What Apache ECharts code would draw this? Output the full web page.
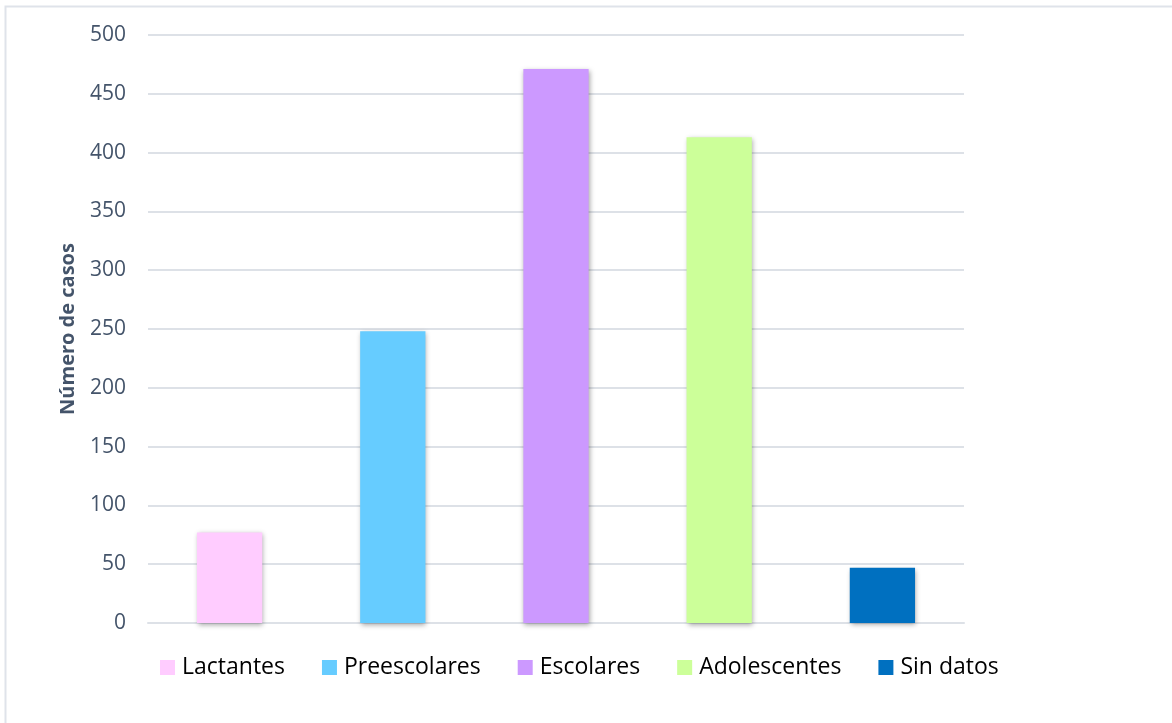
<!DOCTYPE html>
<html>
<head>
<meta charset="utf-8">
<script src="https://cdn.jsdelivr.net/npm/echarts@6/dist/echarts.min.js"></script>
<style>
  html, body { margin: 0; padding: 0; background: #fff; }
  #chart { width: 1172px; height: 723px; }
</style>
</head>
<body>
<div id="chart"></div>
<script>
// Casos por grupo de edad
const categories = ['Lactantes', 'Preescolares', 'Escolares', 'Adolescentes', 'Sin datos'];
const values = [77, 248, 471, 413, 47];
const colors = ['#FFCCFF', '#66CCFF', '#CC99FF', '#CCFF99', '#0070C0'];
const yTicks = { min: 0, max: 500, interval: 50 };
const yAxisTitle = 'Número de casos';

const chart = echarts.init(document.getElementById('chart'));

// One series per group so each gets its own legend entry; stacking keeps bars centred
const series = categories.map((name, i) => ({
  name: name,
  type: 'bar',
  stack: 'grupos',
  barWidth: '40%',
  data: categories.map((c, j) => (j === i ? values[i] : null)),
  itemStyle: {
    color: colors[i],
    shadowColor: 'rgba(0,0,0,0.35)',
    shadowBlur: 5,
    shadowOffsetX: 1,
    shadowOffsetY: 2
  }
}));

chart.setOption({
  animation: false,
  backgroundColor: '#fff',
  graphic: [{
    type: 'rect',
    shape: { x: 5.5, y: 6.5, width: 1200, height: 760 },
    style: { fill: 'none', stroke: '#dfe3ea', lineWidth: 2 },
    silent: true
  }],
  grid: { left: 148, right: 208, top: 35, bottom: 100, containLabel: false },
  legend: {
    data: categories,
    left: 155,
    top: 651,
    itemWidth: 15,
    itemHeight: 15,
    itemGap: 37,
    icon: 'rect',
    textStyle: { fontFamily: 'Open Sans', fontSize: 23, color: '#000', padding: [0, 0, 0, 2] }
  },
  xAxis: {
    type: 'category',
    data: categories,
    axisLine: { show: true, lineStyle: { color: '#dde1e7', width: 2 } },
    axisTick: { show: false },
    axisLabel: { show: false }
  },
  yAxis: {
    type: 'value',
    min: yTicks.min,
    max: yTicks.max,
    interval: yTicks.interval,
    name: yAxisTitle,
    nameLocation: 'middle',
    nameGap: 70,
    nameTextStyle: { fontFamily: 'Open Sans', fontWeight: 'bold', fontSize: 20, color: '#44546A' },
    axisLine: { show: false },
    axisTick: { show: false },
    axisLabel: { fontFamily: 'Open Sans', fontSize: 21, color: '#44546A', margin: 22 },
    splitLine: { lineStyle: { color: '#dde1e7', width: 2 } }
  },
  series: series
});
</script>
</body>
</html>
